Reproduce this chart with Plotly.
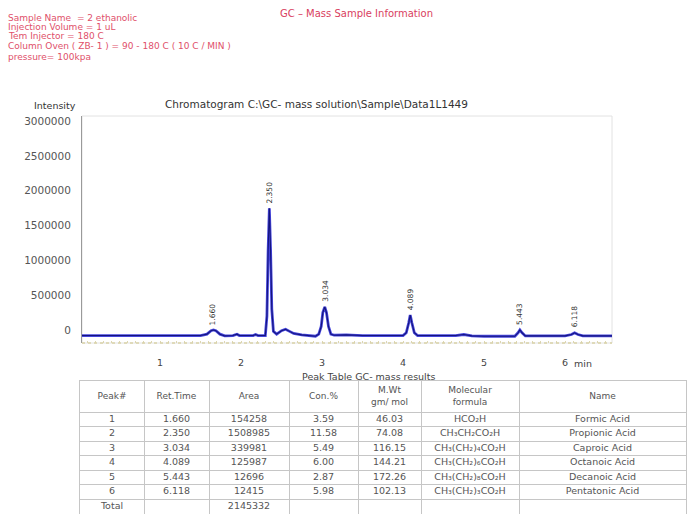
import plotly.graph_objects as go

# ---------------- data ----------------
# chromatogram trace (retention time in min, intensity)
rt_min = [0.03, 1.50, 1.58, 1.63, 1.66, 1.69, 1.74, 1.80, 1.90, 1.95, 1.98, 2.15, 2.18, 2.21,
          2.30, 2.32, 2.335, 2.35, 2.365, 2.38, 2.40, 2.44, 2.50, 2.55, 2.60, 2.65, 2.75, 2.85,
          2.92, 2.96, 2.99, 3.01, 3.034, 3.055, 3.08, 3.11, 3.15, 3.30, 3.50, 4.00, 4.04, 4.07,
          4.089, 4.11, 4.14, 4.18, 4.65, 4.75, 4.85, 5.00, 5.38, 5.42, 5.443, 5.47, 5.51, 6.00,
          6.08, 6.118, 6.16, 6.22, 6.58]
signal = [-80000, -80000, -60000, -10000, 0, -10000, -60000, -85000, -80000, -60000, -80000,
          -80000, -65000, -80000, -80000, 200000, 1150000, 1750000, 1150000, 300000, -20000,
          -60000, -10000, 10000, -20000, -50000, -70000, -80000, -90000, -60000, 50000, 250000,
          330000, 250000, 50000, -60000, -75000, -70000, -80000, -80000, -40000, 100000, 214000,
          100000, -40000, -80000, -80000, -65000, -85000, -90000, -90000, -40000, 0, -40000,
          -85000, -85000, -65000, -40000, -65000, -85000, -85000]

# peak table
peak_no = ["1", "2", "3", "4", "5", "6", "Total"]
ret_time = ["1.660", "2.350", "3.034", "4.089", "5.443", "6.118", ""]
area = ["154258", "1508985", "339981", "125987", "12696", "12415", "2145332"]
conc = ["3.59", "11.58", "5.49", "6.00", "2.87", "5.98", ""]
mol_wt = ["46.03", "74.08", "116.15", "144.21", "172.26", "102.13", ""]
formula = ["HCO₂H", "CH₃CH₂CO₂H", "CH₃(CH₂)₄CO₂H", "CH₃(CH₂)₆CO₂H",
           "CH₃(CH₂)₈CO₂H", "CH₃(CH₂)₃CO₂H", ""]
compound = ["Formic Acid", "Propionic Acid", "Caproic Acid", "Octanoic Acid",
            "Decanoic Acid", "Pentatonic Acid", ""]
headers = ["Peak#", "Ret.Time", "Area", "Con.%", "M.Wt<br>gm/ mol", "Molecular<br>formula", "Name"]

# peak apex values for the retention-time labels
peak_rt = [1.660, 2.350, 3.034, 4.089, 5.443, 6.118]
peak_apex = [0, 1750000, 330000, 214000, 0, -40000]

y_ticks = [0, 500000, 1000000, 1500000, 2000000, 2500000, 3000000]
x_ticks = [1, 2, 3, 4, 5, 6]
x_ticktext = ["1", "2", "3", "4", "5", "6"]

info_lines = ["Sample Name  = 2 ethanolic", "Injection Volume = 1 uL", "Tem Injector = 180 C",
              "Column Oven ( ZB- 1 ) = 90 - 180 C ( 10 C / MIN )", "pressure= 100kpa"]

# ---------------- styling constants ----------------
W, H = 691, 514
FONT = "DejaVu Sans"
GRID = "#c6c6c6"
col_widths = [64, 65, 80, 69, 63, 98, 167]   # relative table column widths
header_h, row_h = 31, 14.5                   # table header / row heights

fig = go.Figure()

# chromatogram
fig.add_trace(go.Scatter(x=rt_min, y=signal, mode="lines",
                         line=dict(color="#4646dc", width=2.8), hoverinfo="skip",
                         showlegend=False))
fig.add_trace(go.Scatter(x=rt_min, y=signal, mode="lines",
                         line=dict(color="#14147e", width=1.1), hoverinfo="skip",
                         showlegend=False))

# peak table drawn on its own axis pair (x2 / y2)
bounds = [0]
for w in col_widths:
    bounds.append(bounds[-1] + w)
centers = [(a + b) / 2 for a, b in zip(bounds[:-1], bounds[1:])]
columns = [peak_no, ret_time, area, conc, mol_wt, formula, compound]
n_rows = len(peak_no)
row_bounds = [0, header_h] + [header_h + row_h * (i + 1) for i in range(n_rows)]

fig.add_trace(go.Scatter(
    x=centers, y=[header_h / 2] * len(headers), text=headers, mode="text",
    textposition="middle center", xaxis="x2", yaxis="y2", hoverinfo="skip",
    textfont=dict(family=FONT, size=9, color="#555"), showlegend=False))

cx, cy, ct = [], [], []
for j, col in enumerate(columns):
    for i, v in enumerate(col):
        cx.append(centers[j])
        cy.append(header_h + row_h * (i + 0.5))
        ct.append(v)
fig.add_trace(go.Scatter(
    x=cx, y=cy, text=ct, mode="text", textposition="middle center",
    xaxis="x2", yaxis="y2", hoverinfo="skip",
    textfont=dict(family=FONT, size=9.5, color="#555"), showlegend=False))

annotations = []
for rt, ap in zip(peak_rt, peak_apex):
    annotations.append(dict(x=rt, y=ap, xref="x", yref="y", text=f"{rt:.3f}",
                            textangle=-90, showarrow=False, yanchor="bottom",
                            xanchor="center", yshift=3,
                            font=dict(family=FONT, size=7.5, color="#333")))

# header block
annotations.append(dict(x=278 / W, y=1 - 13 / H, xref="paper", yref="paper",
                        text="GC – Mass Sample Information", showarrow=False,
                        xanchor="left", yanchor="middle",
                        font=dict(family=FONT, size=10, color="#d9405e")))
for txt, yy in zip(info_lines, [18, 27, 36, 45.5, 57]):
    annotations.append(dict(x=6 / W, y=1 - yy / H, xref="paper", yref="paper", text=txt,
                            showarrow=False, xanchor="left", yanchor="middle",
                            font=dict(family=FONT, size=9, color="#e0506a")))

annotations.append(dict(x=316 / W, y=1 - 104 / H, xref="paper", yref="paper",
                        text="Chromatogram C:\\GC- mass solution\\Sample\\Data1L1449",
                        showarrow=False, xanchor="center", yanchor="middle",
                        font=dict(family=FONT, size=10.5, color="#333")))
annotations.append(dict(x=78 / W, y=1 - 106 / H, xref="paper", yref="paper",
                        text="Intensity", showarrow=False, xanchor="right",
                        yanchor="middle", font=dict(family=FONT, size=9.5, color="#333")))
annotations.append(dict(x=6.08, y=1 - 363 / H, xref="x", yref="paper", text="min",
                        showarrow=False, xanchor="left", yanchor="middle",
                        font=dict(family=FONT, size=9.5, color="#444")))
annotations.append(dict(x=368 / W, y=1 - 376 / H, xref="paper", yref="paper",
                        text="Peak Table GC- mass results", showarrow=False,
                        xanchor="center", yanchor="middle",
                        font=dict(family=FONT, size=9.5, color="#444")))

shapes = [
    dict(type="rect", xref="x domain", yref="y domain", x0=0, x1=1, y0=0, y1=1,
         line=dict(color="#e2e2e2", width=1), layer="below"),
    dict(type="line", xref="x domain", yref="y domain", x0=0, x1=1, y0=0, y1=0,
         line=dict(color="#d9d2a8", width=1.5, dash="dot")),
]

fig.update_layout(
    width=W, height=H, margin=dict(l=0, r=0, t=0, b=0),
    paper_bgcolor="white", plot_bgcolor="white",
    font=dict(family=FONT),
    xaxis=dict(domain=[82 / W, 612 / W], range=[0.037, 6.58], tickvals=x_ticks,
               ticktext=x_ticktext, showgrid=False, zeroline=False, showline=False,
               ticks="", ticklabelstandoff=12,
               tickfont=dict(family=FONT, size=9.5, color="#444"),
               minor=dict(ticks="inside", dtick=0.1, ticklen=2, tickcolor="#ddd6b0",
                          showgrid=False)),
    yaxis=dict(domain=[1 - 343 / H, 1 - 116 / H], range=[-187000, 3075000],
               tickvals=y_ticks, ticktext=[str(v) for v in y_ticks],
               showgrid=False, zeroline=False, showline=True, linecolor="#9a9a9a",
               linewidth=1, ticks="", ticklabelstandoff=8,
               tickfont=dict(family=FONT, size=10.5, color="#555")),
    xaxis2=dict(domain=[80 / W, 686 / W], range=[0, bounds[-1]], anchor="y2",
                tickvals=bounds, showticklabels=False, ticks="", showgrid=True,
                gridcolor=GRID, gridwidth=1, zeroline=False, showline=True,
                mirror=True, linecolor=GRID, fixedrange=True),
    yaxis2=dict(domain=[0, (H - 381) / H], range=[H - 381, 0], anchor="x2",
                tickvals=row_bounds, showticklabels=False, ticks="", showgrid=True,
                gridcolor=GRID, gridwidth=1, zeroline=False, showline=True,
                mirror=True, linecolor=GRID, fixedrange=True),
    annotations=annotations, shapes=shapes, showlegend=False,
)

fig.write_html("out.html")
